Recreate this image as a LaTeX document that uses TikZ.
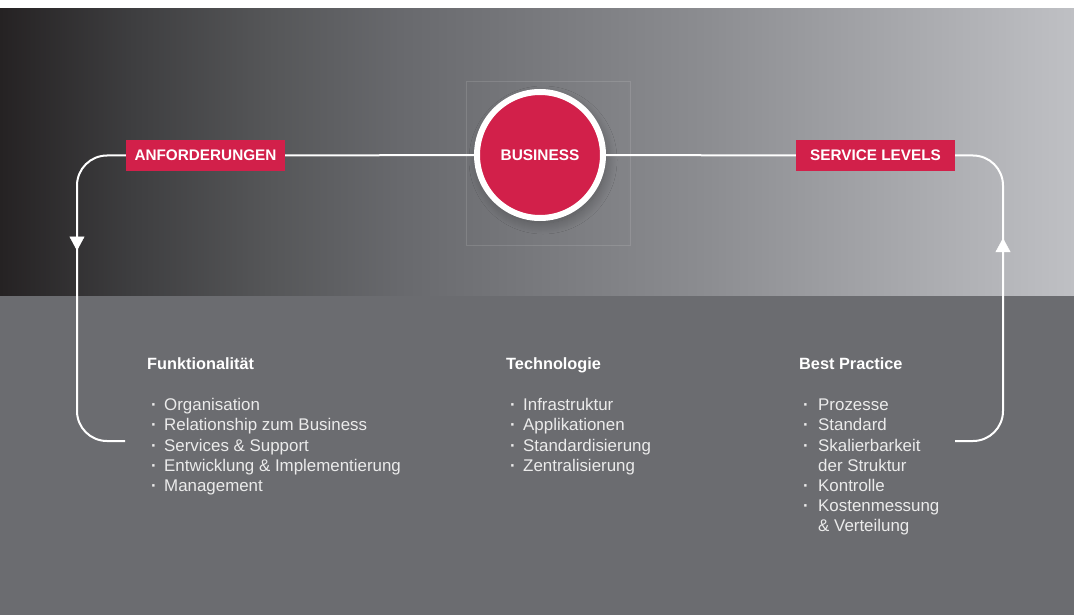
\documentclass[tikz,border=0pt]{standalone}
\usepackage{fontspec}
\setmainfont{Liberation Sans}
\usetikzlibrary{arrows.meta,decorations.markings,shadows.blur}
\definecolor{crimson}{HTML}{D2204A}
\definecolor{gc0}{HTML}{252223}
\definecolor{gc1}{HTML}{3E3E40}
\definecolor{gc2}{HTML}{555658}
\definecolor{gc3}{HTML}{68696D}
\definecolor{gc4}{HTML}{8B8C90}
\definecolor{gc5}{HTML}{BFC0C4}
\definecolor{lowgray}{HTML}{6B6C70}
\definecolor{itemgray}{HTML}{EBEBEB}
\pgfdeclarehorizontalshading{topgrad}{100bp}{color(0bp)=(gc0); color(25bp)=(gc0); color(31.2bp)=(gc1); color(37.45bp)=(gc2); color(43.6bp)=(gc3); color(57.6bp)=(gc4); color(75bp)=(gc5); color(100bp)=(gc5)}
\newcommand\bul[1][17pt]{\makebox[#1][l]{\hspace{4pt}\textbf{·}}}
\begin{document}
\begin{tikzpicture}[x=1pt,y=-1pt,
  flow/.style={draw=white,line width=2pt},
  redbox/.style={fill=crimson,text=white,font=\fontsize{15.3}{18}\selectfont\bfseries,minimum width=159pt,minimum height=31pt,inner sep=0pt},
  head/.style={anchor=base west,text=white,font=\fontsize{16.3}{20.2}\selectfont\bfseries,inner sep=0pt},
  items/.style={anchor=base west,text=itemgray,font=\fontsize{16.9}{20.2}\selectfont,inner sep=0pt},
  tipmark/.style={postaction=decorate,decoration={markings,mark=at position #1 with {\arrow[white,line width=0.5pt]{Triangle[width=15pt,length=14pt]}}}}
]
\fill[white] (0,0) rectangle (1074,615);
\useasboundingbox (0,0) rectangle (1074,615);
\shade[shading=topgrad] (0,9) rectangle (1074,296);
\fill[lowgray] (0,296) rectangle (1074,615);
\draw[white,opacity=0.12,line width=0.8pt] (466,81) rectangle (630,245);
\node[circle,fill=crimson,draw=white,line width=6pt,minimum size=126pt,inner sep=0pt,
  blur shadow={shadow xshift=3pt,shadow yshift=-5pt,shadow blur radius=11pt,shadow blur steps=25,shadow opacity=30},
  text=white,font=\fontsize{15.4}{18}\selectfont\bfseries] (biz) at (540,155) {BUSINESS};
\node[redbox] (anf) at (205.5,155.5) {ANFORDERUNGEN};
\node[redbox] (sl) at (875.5,155.5) {SERVICE LEVELS};
\coordinate (fend) at (125,441);
\coordinate (bend) at (955,441);
\draw[flow] (anf.east) -- (biz.west);
\draw[flow] (biz.east) -- (sl.west);
\draw[flow,rounded corners=30pt,tipmark=131pt] (anf.west) -- (77,155.5) -- (77,441) -- (fend);
\draw[flow,rounded corners=30pt,tipmark=238pt] (bend) -- (1003,441) -- (1003,155.5) -- (sl.east);
% column 1
\node[head] (h1) at (147,369.5) {Funktionalität};
\node[items] (l1) at (147,410.7) {\begin{tabular}[t]{@{}l@{}}
\bul Organisation\\
\bul Relationship zum Business\\
\bul Services \& Support\\
\bul Entwicklung \& Implementierung\\
\bul Management
\end{tabular}};
% column 2
\node[head] (h2) at (506,369.5) {Technologie};
\node[items] (l2) at (506,410.7) {\begin{tabular}[t]{@{}l@{}}
\bul Infrastruktur\\
\bul Applikationen\\
\bul Standardisierung\\
\bul Zentralisierung
\end{tabular}};
% column 3
\node[head] (h3) at (799,369.5) {Best Practice};
\node[items] (l3) at (799,410.7) {\begin{tabular}[t]{@{}l@{}}
\bul[19pt]Prozesse\\
\bul[19pt]Standard\\
\bul[19pt]Skalierbarkeit\\
\hspace*{19pt}der Struktur\\
\bul[19pt]Kontrolle\\
\bul[19pt]Kostenmessung\\
\hspace*{19pt}\& Verteilung
\end{tabular}};
\end{tikzpicture}
\end{document}
